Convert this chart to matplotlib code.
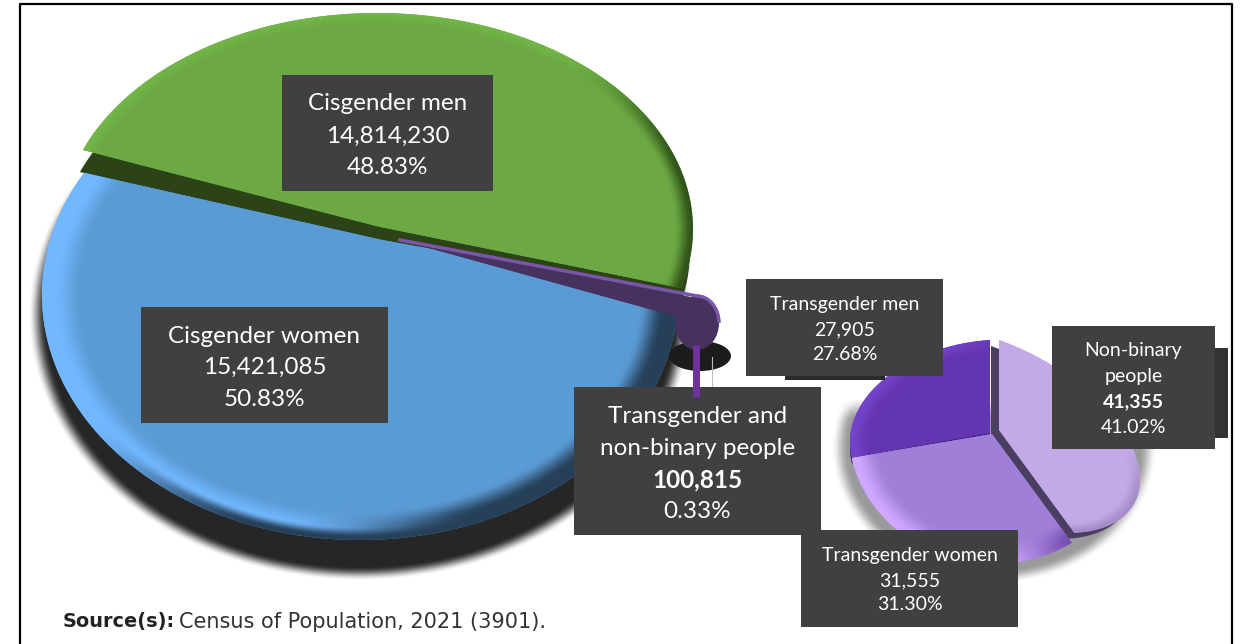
import matplotlib
matplotlib.use("Agg")
import matplotlib.pyplot as plt
import numpy as np
from matplotlib.colors import to_rgb
from matplotlib.patches import Arc, Ellipse, PathPatch, Rectangle
from matplotlib.path import Path
from matplotlib.transforms import Affine2D

plt.rcParams["font.family"] = ["Lato", "DejaVu Sans"]

main_labels = ["Cisgender women", "Transgender and\nnon-binary people", "Cisgender men"]
main_values = [15421085, 100815, 14814230]
main_shares = ["50.83%", "0.33%", "48.83%"]

sub_labels = ["Non-binary\npeople", "Transgender women", "Transgender men"]
sub_values = [41355, 31555, 27905]
sub_shares = ["41.02%", "31.30%", "27.68%"]

source_bold = "Source(s):"
source_text = "Census of Population, 2021 (3901)."


def smooth(a, b, x):
    t = np.clip((x - a) / (b - a), 0, 1)
    return t * t * (3 - 2 * t)


def matrix(c, u, v):
    return np.array([[u[0], v[0], c[0]], [u[1], v[1], c[1]], [0, 0, 1.0]])


def slice_shape(wedge, m, a=0.0, n=(0.0, 1.0)):
    # wedge outline from the pie, with perspective pushing the apex by a along n
    t = np.radians(np.linspace(wedge.theta1, wedge.theta2, 120))
    x = np.r_[0.0, np.cos(t)]
    y = np.r_[0.0, np.sin(t)]
    d = 1 + a * y
    xp = x * np.sqrt(1 - a * a) / d
    yp = (y + a) / d
    xr = xp * n[1] + yp * n[0]
    yr = -xp * n[0] + yp * n[1]
    return Affine2D(m).transform(np.c_[xr, yr])


def add_shape(ax, pts, color, z):
    path = Path(np.r_[pts, pts[:1]], closed=True)
    p = PathPatch(path, facecolor=color, edgecolor="none", zorder=z)
    ax.add_patch(p)
    return p


def unit_grid(m, box):
    x0, x1, y0, y1 = box
    X, Y = np.meshgrid(np.arange(x0, x1, 1.0) + 0.5, np.arange(y0, y1, 1.0) + 0.5)
    inv = np.linalg.inv(m)
    return inv[0, 0] * X + inv[0, 1] * Y + inv[0, 2], inv[1, 0] * X + inv[1, 1] * Y + inv[1, 2]


def paint(ax, wedge, m, base, dark, bright, a=0.0, n=(0.0, 1.0), r0=0.86, r1=0.97, phi0=200, outer=False, z=3):
    # shaded face: gradient image clipped to the slice outline
    wedge.set_visible(False)
    pts = slice_shape(wedge, m, a, n)
    clip = add_shape(ax, pts, base, z)
    box = (int(pts[:, 0].min()) - 2, int(pts[:, 0].max()) + 3, int(pts[:, 1].min()) - 2, int(pts[:, 1].max()) + 3)
    xu, yu = unit_grid(m, box)
    r = np.hypot(xu, yu)
    phi = np.arctan2(yu, xu)
    lit = smooth(-0.25, 0.45, np.cos(phi - np.radians(phi0)))[..., None]
    dk = np.array(to_rgb(dark))
    rim = dk * (1 - lit) + np.array(to_rgb(bright)) * lit
    w = smooth(r0, r1, r)[..., None]
    rgb = np.array(to_rgb(base)) * (1 - w) + rim * w
    if outer:
        e = (smooth(0.945, 0.99, r) * (1 - smooth(-0.2, 0.5, np.cos(phi - np.radians(150)))))[..., None]
        rgb = rgb * (1 - e) + dk * e
    im = ax.imshow(np.clip(rgb, 0, 1), extent=(box[0], box[1], box[3], box[2]), origin="upper",
                   aspect="auto", interpolation="bilinear", zorder=z)
    im.set_clip_path(clip)


def side(ax, wedge, m, shift, color, a=0.0, n=(0.0, 1.0), z=2):
    add_shape(ax, slice_shape(wedge, m, a, n) + np.array(shift), color, z)


def shadow(ax, m, box, color, r0, r1, top=0.5, z=1):
    xu, yu = unit_grid(m, box)
    al = (1 - smooth(r0, r1, np.hypot(xu, yu))) * smooth(top + 0.1, top - 0.1, yu)
    img = np.zeros(al.shape + (4,))
    img[..., :3] = to_rgb(color)
    img[..., 3] = al
    ax.imshow(img, extent=(box[0], box[1], box[3], box[2]), origin="upper", aspect="auto", zorder=z)


def label_box(ax, box, lines, size):
    x0, y0, x1, y1 = box
    ax.add_patch(Rectangle((x0, y0), x1 - x0, y1 - y0, facecolor="#404040", edgecolor="none", zorder=8))
    for text, y, bold in lines:
        ax.text((x0 + x1) / 2, y, text, color="white", fontsize=size, ha="center", va="center",
                fontweight="bold" if bold else "normal", zorder=9)


fig = plt.figure(figsize=(12.4, 6.44), dpi=100)
ax = fig.add_axes([0, 0, 1, 1])

# main pie, women on the lower half
main_w, _ = ax.pie(main_values, startangle=180, radius=1)
m_women = matrix((360, 295), (318, 0), (0, -245))
m_men = matrix((377, 229), (316, 0), (0, -216))
n_women, a_women = (0.281, 0.96), 0.235
n_men, a_men = (0.3546, 0.935), 0.012

# the thin slice is far too narrow at true scale, its own matrix stretches it
a1, a2 = np.radians(main_w[1].theta1), np.radians(main_w[1].theta2)
src = np.array([[np.cos(a1), np.sin(a1)], [np.cos(a2), np.sin(a2)]])
uv = np.linalg.solve(src, np.array([[282.0, 78.0], [290.0, 57.0]]))
m_trans = matrix((400, 240), uv[0], uv[1])

shadow(ax, matrix((360, 315), (322, 0), (0, -258)), (20, 760, 150, 600), "#262626", 0.975, 1.03)
ax.add_patch(Ellipse((700, 356), 62, 30, facecolor="#1c1c1c", edgecolor="none", zorder=1))
side(ax, main_w[2], m_men, (-3, 22), "#2b4317", a_men, n_men)
paint(ax, main_w[0], m_women, "#5b9bd5", "#264059", "#72b8ff", a_women, n_women,
      r0=0.875, r1=0.96, phi0=190, outer=True)
paint(ax, main_w[2], m_men, "#6ca843", "#2f5218", "#72b548", a_men, n_men, r0=0.94, r1=1.0, phi0=120)

paint(ax, main_w[1], m_trans, "#47315e", "#47315e", "#47315e", z=4)
ax.add_patch(Ellipse((697, 323), 44, 54, facecolor="#47315e", edgecolor="none", zorder=4))
ax.plot([400, 560, 660, 697], [240, 270, 289, 296], color="#7a55a8", linewidth=2.5, zorder=5)
ax.add_patch(Arc((697, 323), 44, 54, theta1=-90, theta2=0, color="#7a55a8", linewidth=2.5, zorder=5))
ax.plot([696, 696], [345, 397], color="#7030a0", linewidth=5, solid_capstyle="butt", zorder=9)
ax.plot([712, 712], [357, 387], color="#bbbbbb", linewidth=0.8, zorder=5)

# small pie, clockwise from twelve o'clock
sub_w, _ = ax.pie(sub_values, startangle=90, counterclock=False, radius=1)
m_nb = matrix((999, 430), (141, 50), (0, -90))
m_tw = matrix((992, 434), (143, -2), (-4, -130))
m_tm = matrix((990, 433), (140, -9), (0, -93))

shadow(ax, matrix((994, 448), (158, 0), (0, -132)), (820, 1175, 400, 600), "#9a9a9a", 0.92, 1.03, top=0.3)
side(ax, sub_w[0], m_nb, (-8, 6), "#4a3f63")
side(ax, sub_w[2], m_tm, (0, 6), "#3b1a78")
paint(ax, sub_w[0], m_nb, "#c3a9e6", "#a48cc8", "#c3a9e6", r0=0.9, r1=1.0, phi0=90)
paint(ax, sub_w[1], m_tw, "#a07fd8", "#6a45a8", "#cfa8ff", r0=0.8, r1=0.98, phi0=205)
paint(ax, sub_w[2], m_tm, "#6535b0", "#6535b0", "#7445cc", r0=0.85, r1=1.0, phi0=180)

# box shadows
ax.add_patch(Rectangle((785, 370), 100, 10, facecolor="#2b2b2b", edgecolor="none", zorder=7))
ax.add_patch(Rectangle((1210, 348), 18, 90, facecolor="#333333", edgecolor="none", zorder=7))

label_box(ax, (282, 75, 493, 191),
          [(main_labels[2], 103, False), (f"{main_values[2]:,}", 136, False), (main_shares[2], 167, False)], 17.5)
label_box(ax, (141, 307, 388, 423),
          [(main_labels[0], 336, False), (f"{main_values[0]:,}", 367, False), (main_shares[0], 399, False)], 17.5)
tn = main_labels[1].split("\n")
label_box(ax, (574, 387, 821, 535),
          [(tn[0], 416, False), (tn[1], 448, False), (f"{main_values[1]:,}", 480, True), (main_shares[1], 511, False)], 17.5)
label_box(ax, (746, 279, 943, 376),
          [(sub_labels[2], 304, False), (f"{sub_values[2]:,}", 330, False), (sub_shares[2], 354, False)], 14)
nb = sub_labels[0].split("\n")
label_box(ax, (1052, 326, 1215, 449),
          [(nb[0], 350, False), (nb[1], 376, False), (f"{sub_values[0]:,}", 402, True), (sub_shares[0], 427, False)], 14)
label_box(ax, (801, 530, 1018, 627),
          [(sub_labels[1], 555, False), (f"{sub_values[1]:,}", 581, False), (sub_shares[1], 605, False)], 14)

ax.text(63, 622, source_bold, fontsize=13.9, fontweight="bold", family="DejaVu Sans", color="#222222", va="center", ha="left", zorder=9)
ax.text(179, 622, source_text, fontsize=15, family="DejaVu Sans", color="#333333", va="center", ha="left", zorder=9)

# frame, open at the bottom
ax.plot([20, 20, 1232, 1232], [644, 3.5, 3.5, 644], color="black", linewidth=1.6, zorder=10)

ax.set_xlim(0, 1240)
ax.set_ylim(644, 0)
ax.set_aspect("auto")
ax.axis("off")

fig.savefig("out.png", dpi=100, facecolor="white")
